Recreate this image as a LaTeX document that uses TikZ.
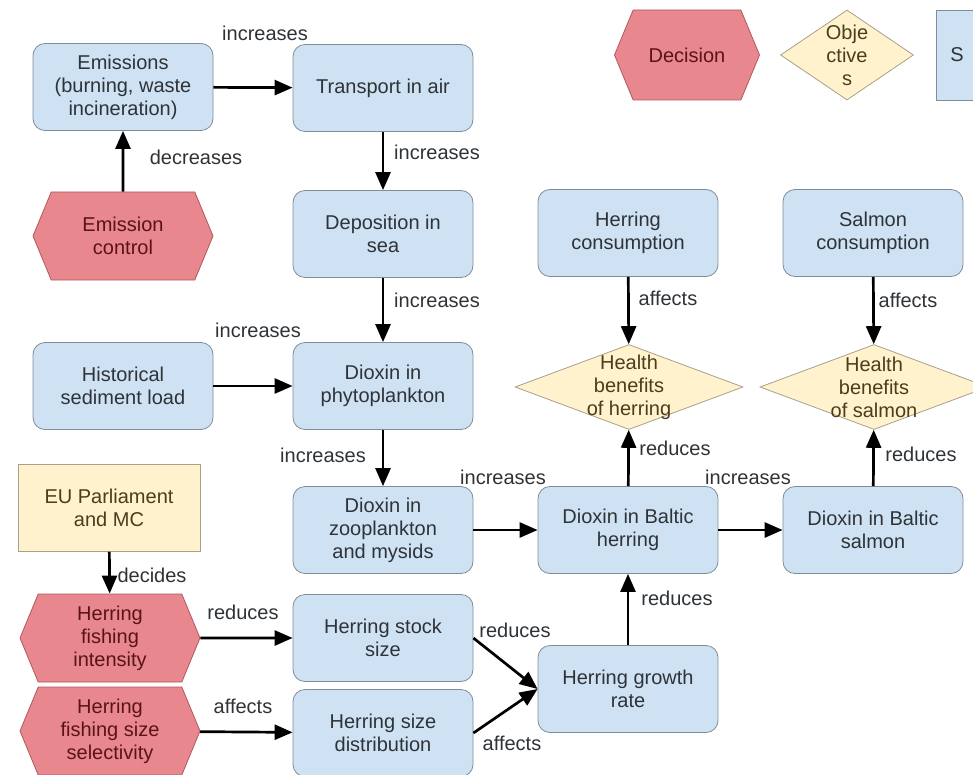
\documentclass[tikz,border=0pt]{standalone}
\usepackage{fontspec}
\setmainfont{Liberation Sans}
\usetikzlibrary{arrows.meta,shapes.geometric,shapes.symbols}

\definecolor{varfill}{HTML}{CFE2F3}
\definecolor{vardraw}{HTML}{7F8C99}
\definecolor{decfill}{HTML}{E8878D}
\definecolor{decdraw}{HTML}{B0585E}
\definecolor{dectext}{HTML}{5A1418}
\definecolor{objfill}{HTML}{FFF2CC}
\definecolor{objdraw}{HTML}{A8A08A}
\definecolor{objtext}{HTML}{4A3E1C}
\definecolor{ink}{HTML}{2E3338}

\tikzset{
  txt/.style={font=\fontsize{10}{11.5}\selectfont, align=center},
  varbox/.style={txt, draw=vardraw, fill=varfill, text=ink, rounded corners=6pt,
    minimum width=90pt, minimum height=43.5pt, inner sep=2pt},
  decbox/.style={txt, signal, signal to=west and east, signal pointer angle=135,
    draw=decdraw, fill=decfill, text=dectext, minimum width=90pt, minimum height=44pt, inner sep=1pt},
  objbox/.style={txt, diamond, draw=objdraw, fill=objfill, text=objtext,
    inner xsep=-30pt, inner ysep=-20pt, minimum width=114pt, minimum height=42.5pt},
  link/.style={-{Triangle[length=9pt,width=7.5pt]}, line width=1.35pt, black},
  lbl/.style={font=\fontsize{10}{11.5}\selectfont, text=ink, inner sep=1pt},
}

\begin{document}
\begin{tikzpicture}[x=0.5pt,y=-0.5pt]
\useasboundingbox (0,0) rectangle (973,775);
\clip (0,0) rectangle (973,775);

% legend
\node[decbox, minimum width=72.5pt, minimum height=45pt] (legdec) at (687,55) {Decision};
\node[objbox, minimum width=66.5pt, minimum height=45pt] (legobj) at (847,55) {Obje\\ctive\\s};
\node[txt, draw=vardraw, fill=varfill, text=ink, minimum height=45pt, inner xsep=7pt,
  text width=40pt, align=left, anchor=west] (legvar) at (936,55) {S};

% emissions and air route
\node[varbox] (emis) at (123,87) {Emissions\\(burning, waste\\incineration)};
\node[varbox] (air) at (383,88) {Transport in air};
\node[decbox] (emisctl) at (123,236) {Emission\\control};
\node[varbox] (depo) at (383,234) {Deposition in\\sea};

% food chain
\node[varbox] (sedim) at (123,386) {Historical\\sediment load};
\node[varbox] (phyto) at (383,386) {Dioxin in\\phytoplankton};
\node[varbox] (zoo) at (383,530) {Dioxin in\\zooplankton\\and mysids};
\node[varbox] (bherr) at (628,530) {Dioxin in Baltic\\herring};
\node[varbox] (bsalm) at (873,530) {Dioxin in Baltic\\salmon};

% consumption and health
\node[varbox] (conherr) at (628,233) {Herring\\consumption};
\node[varbox] (consalm) at (873,233) {Salmon\\consumption};
\node[objbox] (hbherr) at (629,387) {Health\\benefits\\of herring};
\node[objbox] (hbsalm) at (874,387) {Health\\benefits\\of salmon};

% fisheries management
\node[txt, draw=objdraw, fill=objfill, text=objtext, minimum width=91pt, minimum height=43.5pt] (eu) at (109,508) {EU Parliament\\and MC};
\node[decbox] (fint) at (110,638) {Herring\\fishing\\intensity};
\node[decbox] (fsel) at (110,731) {Herring\\fishing size\\selectivity};
\node[varbox] (stock) at (383,638) {Herring stock\\size};
\node[varbox] (sizedist) at (383,733) {Herring size\\distribution};
\node[varbox] (growth) at (628,689) {Herring growth\\rate};

% connectors
\draw[link] (emis) -- (air);
\draw[link] (emisctl) -- (emis);
\draw[link] (air) -- (depo);
\draw[link] (depo) -- (phyto);
\draw[link] (sedim) -- (phyto);
\draw[link] (phyto) -- (zoo);
\draw[link] (zoo) -- (bherr);
\draw[link] (bherr) -- (bsalm);
\draw[link] (bherr) -- (hbherr);
\draw[link] (bsalm) -- (hbsalm);
\draw[link] (conherr) -- (hbherr);
\draw[link] (consalm) -- (hbsalm);
\draw[link] (eu) -- (fint);
\draw[link] (fint) -- (stock);
\draw[link] (fsel) -- (sizedist);
\draw[link] (stock.east) -- (growth.west);
\draw[link] (sizedist.east) -- (growth.west);
\draw[link] (growth) -- (bherr);

% connector labels
\node[lbl] (l1) at (265,33) {increases};
\node[lbl] (l2) at (196,157) {decreases};
\node[lbl] (l3) at (437,152) {increases};
\node[lbl] (l4) at (437,300) {increases};
\node[lbl] (l5) at (258,330) {increases};
\node[lbl] (l6) at (323,455) {increases};
\node[lbl] (l7) at (503,477) {increases};
\node[lbl] (l8) at (748,477) {increases};
\node[lbl] (l9) at (675,448) {reduces};
\node[lbl] (l10) at (921,454) {reduces};
\node[lbl] (l11) at (668,298) {affects};
\node[lbl] (l12) at (908,300) {affects};
\node[lbl] (l13) at (152,575) {decides};
\node[lbl] (l14) at (243,612) {reduces};
\node[lbl] (l15) at (243,706) {affects};
\node[lbl] (l16) at (515,630) {reduces};
\node[lbl] (l17) at (512,743) {affects};
\node[lbl] (l18) at (677,598) {reduces};

\end{tikzpicture}
\end{document}
